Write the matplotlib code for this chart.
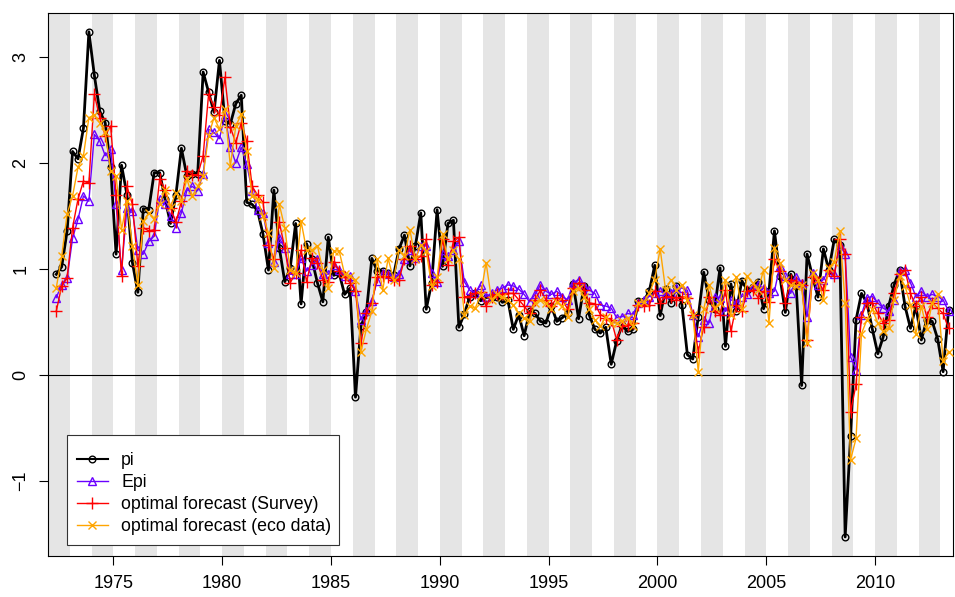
import numpy as np
import matplotlib.pyplot as plt
from matplotlib.patches import Rectangle
from matplotlib.transforms import IdentityTransform

plt.rcParams['font.family'] = ['Liberation Sans', 'DejaVu Sans']

# quarterly data, 1972Q2 .. 2013Q2 (plotted at mid-quarter)
start_year = 1972.375

pi = [0.95, 1.02, 1.36, 2.11, 2.04, 2.33, 3.24, 2.83, 2.49, 2.38,
      1.96, 1.14, 1.98, 1.70, 1.06, 0.78, 1.57, 1.56, 1.91, 1.91,
      1.66, 1.43, 1.70, 2.14, 1.88, 1.90, 1.90, 2.86, 2.67, 2.48,
      2.97, 2.40, 2.37, 2.56, 2.64, 1.63, 1.61, 1.55, 1.33, 0.99,
      1.745, 1.20, 0.88, 1.01, 1.43, 0.67, 1.24, 1.09, 0.87, 0.69,
      1.30, 0.94, 0.96, 0.76, 0.82, -0.21, 0.46, 0.59, 1.10, 0.98,
      0.98, 0.96, 0.94, 1.19, 1.32, 1.03, 1.215, 1.53, 0.62, 0.87,
      1.56, 1.025, 1.43, 1.46, 0.45, 0.575, 0.74, 0.77, 0.70, 0.73,
      0.74, 0.74, 0.685, 0.71, 0.43, 0.57, 0.37, 0.60, 0.58, 0.505,
      0.49, 0.65, 0.505, 0.54, 0.58, 0.86, 0.53, 0.84, 0.56, 0.43,
      0.395, 0.45, 0.10, 0.32, 0.47, 0.41, 0.43, 0.70, 0.70, 0.79,
      1.035, 0.56, 0.81, 0.68, 0.84, 0.66, 0.19, 0.15, 0.55, 0.97,
      0.71, 0.62, 1.01, 0.27, 0.86, 0.60, 0.89, 0.80, 0.83, 0.88,
      0.625, 0.79, 1.36, 0.93, 0.59, 0.95, 0.84, -0.10, 1.14, 0.93,
      0.735, 1.19, 0.99, 1.28, 1.23, -1.53, -0.575, 0.52, 0.77, 0.68,
      0.43, 0.20, 0.36, 0.65, 0.85, 0.99, 0.65, 0.44, 0.65, 0.33,
      0.52, 0.505, 0.34, 0.03, 0.61]

epi = [0.73, 0.85, 0.915, 1.29, 1.47, 1.69, 1.64, 2.27, 2.21, 2.07,
       2.13, 1.61, 0.99, 1.58, 1.55, 1.18, 1.14, 1.26, 1.31, 1.66,
       1.61, 1.50, 1.39, 1.53, 1.74, 1.78, 1.74, 1.90, 2.32, 2.29,
       2.23, 2.45, 2.15, 2.00, 2.15, 1.99, 1.74, 1.56, 1.53, 1.25,
       1.07, 1.29, 1.20, 0.95, 0.95, 1.10, 0.98, 1.04, 1.09, 0.95,
       0.95, 1.04, 0.99, 0.93, 0.93, 0.79, 0.52, 0.60, 0.70, 0.89,
       0.96, 0.95, 0.92, 0.95, 1.09, 1.18, 1.10, 1.22, 1.22, 0.96,
       0.88, 1.14, 1.12, 1.18, 1.26, 0.88, 0.80, 0.77, 0.85, 0.74,
       0.77, 0.80, 0.82, 0.85, 0.84, 0.81, 0.76, 0.69, 0.76, 0.85,
       0.79, 0.76, 0.79, 0.74, 0.71, 0.87, 0.90, 0.84, 0.80, 0.77,
       0.66, 0.65, 0.63, 0.54, 0.55, 0.58, 0.57, 0.68, 0.71, 0.74,
       0.77, 0.79, 0.76, 0.77, 0.82, 0.82, 0.80, 0.57, 0.36, 0.52,
       0.49, 0.74, 0.73, 0.60, 0.71, 0.68, 0.74, 0.76, 0.84, 0.85,
       0.82, 0.77, 0.79, 1.03, 0.93, 0.77, 0.92, 0.87, 0.55, 0.96,
       0.85, 0.90, 0.99, 0.95, 1.23, 1.14, 0.17, 0.05, 0.57, 0.73,
       0.74, 0.68, 0.63, 0.60, 0.71, 0.98, 0.99, 0.87, 0.74, 0.79,
       0.74, 0.76, 0.74, 0.71, 0.60]

opt_survey = [0.60, 0.84, 0.915, 1.39, 1.66, 1.83, 1.81, 2.65, 2.43, 2.26,
              2.35, 1.70, 0.93, 1.78, 1.61, 1.03, 1.39, 1.36, 1.37, 1.85,
              1.75, 1.58, 1.44, 1.64, 1.93, 1.89, 1.89, 2.07, 2.65, 2.53,
              2.45, 2.81, 2.34, 2.19, 2.38, 2.21, 1.78, 1.70, 1.63, 1.23,
              1.09, 1.44, 1.20, 0.87, 0.96, 1.18, 0.88, 1.10, 1.06, 0.90,
              0.88, 1.07, 0.98, 0.92, 0.87, 0.79, 0.30, 0.58, 0.68, 0.92,
              0.93, 0.92, 0.90, 0.90, 1.09, 1.22, 1.09, 1.12, 1.28, 0.85,
              0.88, 1.28, 1.04, 1.26, 1.30, 0.74, 0.74, 0.77, 0.78, 0.65,
              0.74, 0.76, 0.76, 0.77, 0.77, 0.71, 0.65, 0.58, 0.71, 0.80,
              0.71, 0.65, 0.73, 0.71, 0.62, 0.82, 0.87, 0.80, 0.68, 0.67,
              0.57, 0.54, 0.52, 0.33, 0.46, 0.47, 0.49, 0.66, 0.65, 0.66,
              0.79, 0.68, 0.74, 0.74, 0.71, 0.74, 0.73, 0.57, 0.22, 0.45,
              0.74, 0.60, 0.57, 0.80, 0.41, 0.66, 0.60, 0.79, 0.80, 0.73,
              0.79, 0.69, 1.09, 0.98, 0.68, 0.90, 0.88, 0.85, 0.33, 0.92,
              0.88, 0.80, 0.99, 0.93, 1.28, 1.14, -0.35, -0.09, 0.55, 0.68,
              0.68, 0.58, 0.49, 0.52, 0.77, 0.95, 0.99, 0.77, 0.65, 0.74,
              0.55, 0.68, 0.63, 0.58, 0.44]

opt_eco = [0.82, 1.12, 1.52, 1.69, 1.96, 2.07, 2.43, 2.45, 2.38, 2.29,
           1.93, 1.88, 1.37, 1.64, 1.22, 0.85, 1.45, 1.53, 1.47, 1.61,
           1.75, 1.59, 1.72, 1.64, 1.85, 1.69, 1.78, 1.88, 2.26, 2.43,
           2.32, 2.51, 1.97, 2.35, 2.46, 2.11, 1.69, 1.66, 1.50, 1.34,
           1.01, 1.61, 1.39, 0.99, 0.96, 1.45, 1.18, 1.18, 1.22, 0.99,
           0.82, 1.17, 1.17, 0.95, 0.93, 0.90, 0.22, 0.43, 0.60, 1.09,
           0.80, 1.10, 0.90, 1.18, 1.12, 1.37, 1.09, 1.23, 1.17, 0.84,
           0.92, 1.33, 1.09, 1.18, 1.09, 0.57, 0.65, 0.63, 0.75, 1.06,
           0.71, 0.76, 0.74, 0.71, 0.66, 0.58, 0.54, 0.51, 0.68, 0.71,
           0.68, 0.62, 0.69, 0.65, 0.55, 0.79, 0.82, 0.74, 0.62, 0.52,
           0.46, 0.55, 0.49, 0.49, 0.51, 0.54, 0.46, 0.68, 0.69, 0.77,
           0.90, 1.19, 0.80, 0.90, 0.80, 0.85, 0.71, 0.57, 0.03, 0.62,
           0.85, 0.63, 0.68, 0.90, 0.57, 0.92, 0.62, 0.93, 0.87, 0.80,
           0.99, 0.49, 1.20, 1.06, 0.90, 0.85, 0.84, 0.85, 0.30, 0.96,
           0.90, 0.71, 1.01, 1.07, 1.36, 0.68, -0.80, -0.60, 0.39, 0.52,
           0.62, 0.49, 0.41, 0.44, 0.71, 0.93, 0.84, 0.66, 0.39, 0.65,
           0.43, 0.68, 0.76, 0.13, 0.22]

t = start_year + 0.25 * np.arange(len(pi))

W, H = 955, 597
fig = plt.figure(figsize=(W / 100, H / 100), dpi=100)
ax = fig.add_axes([48.3 / W, 1 - 556 / H, (953 - 48.3) / W, (556 - 12.7) / H])
ax.set_xlim(1972.01, 2013.58)
ax.set_ylim(-1.71, 3.42)

# grey band every other year
for y in range(1972, 2014, 2):
    ax.axvspan(y, y + 1, color='#E5E5E5', lw=0, zorder=0)

ax.axhline(0, color='black', lw=0.8, zorder=1)

ax.plot(t, pi, color='black', lw=2, marker='o', ms=4.8, mfc='none', mew=1,
        label='pi', zorder=2)
ax.plot(t, epi, color='#6A00FF', lw=1, marker='^', ms=6, mfc='none', mew=1,
        label='Epi', zorder=3)
ax.plot(t, opt_survey, color='red', lw=1, marker='+', ms=8, mew=1,
        label='optimal forecast (Survey)', zorder=4)
ax.plot(t, opt_eco, color='#FFA500', lw=1, marker='x', ms=6, mew=1,
        label='optimal forecast (eco data)', zorder=5)

ax.set_xticks([1975, 1980, 1985, 1990, 1995, 2000, 2005, 2010])
ax.set_yticks([-1, 0, 1, 2, 3])
ax.tick_params(direction='out', length=6.5, width=0.8, labelsize=13, pad=7)
for lab in ax.get_yticklabels():
    lab.set_rotation(90)
    lab.set_va('center')
for s in ax.spines.values():
    s.set_linewidth(0.8)

leg = ax.legend(loc='lower left', bbox_to_anchor=(0.0207, 0.0202),
                borderaxespad=0, fancybox=False, frameon=False,
                fontsize=12.8, handlelength=1.75, handletextpad=0.75,
                labelspacing=0.28, borderpad=0.55)
leg.get_lines()[0].set_linewidth(1.5)
leg.set_zorder(7)

# R-style legend box: a bit more room above the first entry
fig.canvas.draw()
bb = leg.get_window_extent()
box = Rectangle((bb.x0, bb.y0), bb.width - 2, bb.height + 8,
                transform=IdentityTransform(), facecolor='white',
                edgecolor='#333333', lw=0.8, zorder=6)
ax.add_artist(box)

plt.savefig('out.png', dpi=100)
